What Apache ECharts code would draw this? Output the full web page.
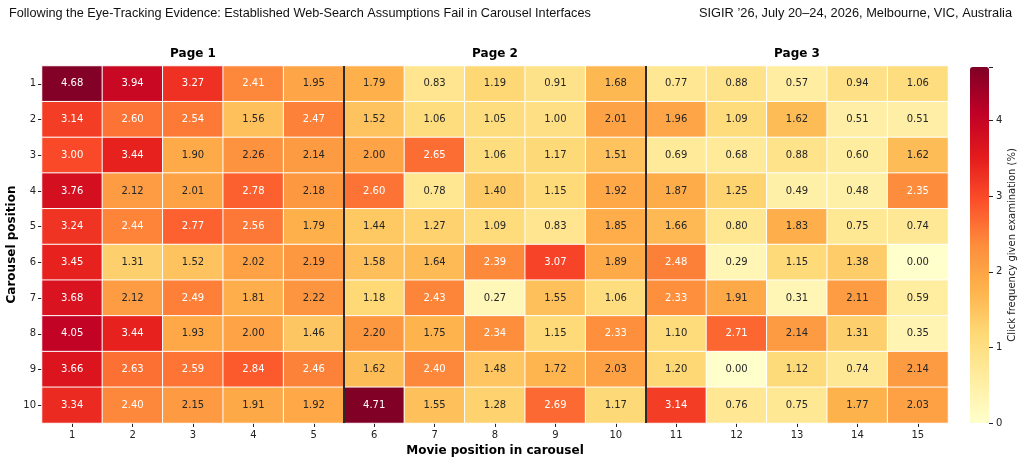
<!DOCTYPE html>
<html>
<head>
<meta charset="utf-8">
<script src="https://cdn.jsdelivr.net/npm/echarts@6/dist/echarts.min.js"></script>
<style>
  html, body { margin: 0; padding: 0; background: #fff; }
  #chart { width: 1022px; height: 462px; }
</style>
</head>
<body>
<div id="chart"></div>
<script>
// movie positions (columns) and carousel positions (rows)
const moviePositions = ['1','2','3','4','5','6','7','8','9','10','11','12','13','14','15']
const carouselPositions = ['1','2','3','4','5','6','7','8','9','10']
const pageLabels = ['', '', 'Page 1', '', '', '', '', 'Page 2', '', '', '', '', 'Page 3', '', '']
const pageBreaks = [5, 10]

// click frequency given examination (%), one row per carousel position
const row1 = [4.68, 3.94, 3.27, 2.41, 1.95, 1.79, 0.83, 1.19, 0.91, 1.68, 0.77, 0.88, 0.57, 0.94, 1.06]
const row2 = [3.14, 2.60, 2.54, 1.56, 2.47, 1.52, 1.06, 1.05, 1.00, 2.01, 1.96, 1.09, 1.62, 0.51, 0.51]
const row3 = [3.00, 3.44, 1.90, 2.26, 2.14, 2.00, 2.65, 1.06, 1.17, 1.51, 0.69, 0.68, 0.88, 0.60, 1.62]
const row4 = [3.76, 2.12, 2.01, 2.78, 2.18, 2.60, 0.78, 1.40, 1.15, 1.92, 1.87, 1.25, 0.49, 0.48, 2.35]
const row5 = [3.24, 2.44, 2.77, 2.56, 1.79, 1.44, 1.27, 1.09, 0.83, 1.85, 1.66, 0.80, 1.83, 0.75, 0.74]
const row6 = [3.45, 1.31, 1.52, 2.02, 2.19, 1.58, 1.64, 2.39, 3.07, 1.89, 2.48, 0.29, 1.15, 1.38, 0.00]
const row7 = [3.68, 2.12, 2.49, 1.81, 2.22, 1.18, 2.43, 0.27, 1.55, 1.06, 2.33, 1.91, 0.31, 2.11, 0.59]
const row8 = [4.05, 3.44, 1.93, 2.00, 1.46, 2.20, 1.75, 2.34, 1.15, 2.33, 1.10, 2.71, 2.14, 1.31, 0.35]
const row9 = [3.66, 2.63, 2.59, 2.84, 2.46, 1.62, 2.40, 1.48, 1.72, 2.03, 1.20, 0.00, 1.12, 0.74, 2.14]
const row10 = [3.34, 2.40, 2.15, 1.91, 1.92, 4.71, 1.55, 1.28, 2.69, 1.17, 3.14, 0.76, 0.75, 1.77, 2.03]
const rows = [row1, row2, row3, row4, row5, row6, row7, row8, row9, row10]

const colorbarTicks = [0, 1, 2, 3, 4]

// YlOrRd
const ylOrRd = ['#ffffcc', '#ffeda0', '#fed976', '#feb24c', '#fd8d3c', '#fc4e2a', '#e31a1c', '#bd0026', '#800026']

const allValues = rows.flat()
const vMin = Math.min(...allValues)
const vMax = Math.max(...allValues)

const font = 'DejaVu Sans'
const headerFont = 'Liberation Sans'

const heatData = []
rows.forEach((row, y) => {
  row.forEach((v, x) => {
    heatData.push({
      value: [x, y, v],
      label: { color: v > 2.3 ? '#ffffff' : '#262626' }
    })
  })
})

const myChart = echarts.init(document.getElementById('chart'))

const option = {
  animation: false,
  backgroundColor: '#fff',
  title: [
    {
      text: 'Following the Eye-Tracking Evidence: Established Web-Search Assumptions Fail in Carousel Interfaces',
      left: 4, top: 2,
      textStyle: { fontFamily: headerFont, fontWeight: 'normal', fontSize: 12.7, color: '#111' }
    },
    {
      text: 'SIGIR \u201926, July 20\u201324, 2026, Melbourne, VIC, Australia',
      right: 5, top: 2,
      textStyle: { fontFamily: headerFont, fontWeight: 'normal', fontSize: 12.8, color: '#111' }
    }
  ],
  grid: [
    { left: 42, right: 74, top: 66, bottom: 39, outerBoundsMode: 'none' },
    // thin strip just right of the colour bar, carries its ticks and title
    { left: 989, width: 2, top: 67, bottom: 39, outerBoundsMode: 'none' }
  ],
  xAxis: [
    {
      type: 'category',
      gridIndex: 0,
      data: moviePositions,
      position: 'bottom',
      axisLine: { show: false },
      axisTick: { show: true, alignWithLabel: true, length: 4, lineStyle: { color: '#222' } },
      axisLabel: { fontFamily: font, fontSize: 10, color: '#222', margin: 7 },
      splitLine: { show: false },
      name: 'Movie position in carousel',
      nameLocation: 'middle',
      nameGap: 22,
      nameTextStyle: { fontFamily: font, fontSize: 12, fontWeight: 'bold', color: '#000' }
    },
    {
      type: 'category',
      gridIndex: 0,
      data: pageLabels,
      position: 'top',
      z: 10,
      axisLine: { show: false },
      axisTick: { show: false },
      axisLabel: { interval: 0, fontFamily: font, fontSize: 12, fontWeight: 'bold', color: '#000', margin: 6 },
      splitLine: {
        show: true,
        showMinLine: true,
        showMaxLine: false,
        interval: (index) => pageBreaks.includes(index),
        lineStyle: { color: '#2b2b2b', width: 2 }
      }
    },
    {
      type: 'value',
      gridIndex: 1,
      show: false
    }
  ],
  yAxis: [
    {
      type: 'category',
      gridIndex: 0,
      data: carouselPositions,
      inverse: true,
      axisLine: { show: false },
      axisTick: { show: true, alignWithLabel: true, length: 4, lineStyle: { color: '#222' } },
      axisLabel: { fontFamily: font, fontSize: 10, color: '#222', margin: 6 },
      name: 'Carousel position',
      nameLocation: 'middle',
      nameMoveOverlap: false,
      nameGap: 24,
      nameTextStyle: { fontFamily: font, fontSize: 12, fontWeight: 'bold', color: '#000' }
    },
    {
      type: 'value',
      gridIndex: 1,
      position: 'left',
      z: 10,
      min: vMin,
      max: vMax,
      interval: 1,
      axisLine: { show: false },
      axisTick: { show: true, inside: true, length: 4, lineStyle: { color: '#222' } },
      axisLabel: {
        inside: true,
        fontFamily: font, fontSize: 10, color: '#222', margin: 7,
        formatter: (v) => colorbarTicks.includes(v) ? String(v) : ''
      },
      splitLine: { show: false },
      name: 'Click frequency given examination (%)',
      nameLocation: 'middle',
      nameMoveOverlap: false,
      nameRotate: 90,
      nameGap: -28,
      nameTextStyle: { fontFamily: font, fontSize: 10, color: '#222' }
    }
  ],
  visualMap: {
    type: 'continuous',
    min: vMin,
    max: vMax,
    seriesIndex: 0,
    calculable: false,
    realtime: false,
    hoverLink: false,
    text: ['', ''],
    padding: 0,
    itemWidth: 19,
    itemHeight: 356,
    left: 970,
    top: 67,
    inRange: { color: ylOrRd },
    indicatorStyle: { opacity: 0 }
  },
  series: [
    {
      type: 'heatmap',
      xAxisIndex: 0,
      yAxisIndex: 0,
      data: heatData,
      label: {
        show: true,
        fontFamily: font,
        fontSize: 10,
        formatter: (p) => p.value[2].toFixed(2)
      },
      itemStyle: { borderColor: '#fff', borderWidth: 1 },
      emphasis: { disabled: true }
    }
  ]
}

myChart.setOption(option)
</script>
</body>
</html>
